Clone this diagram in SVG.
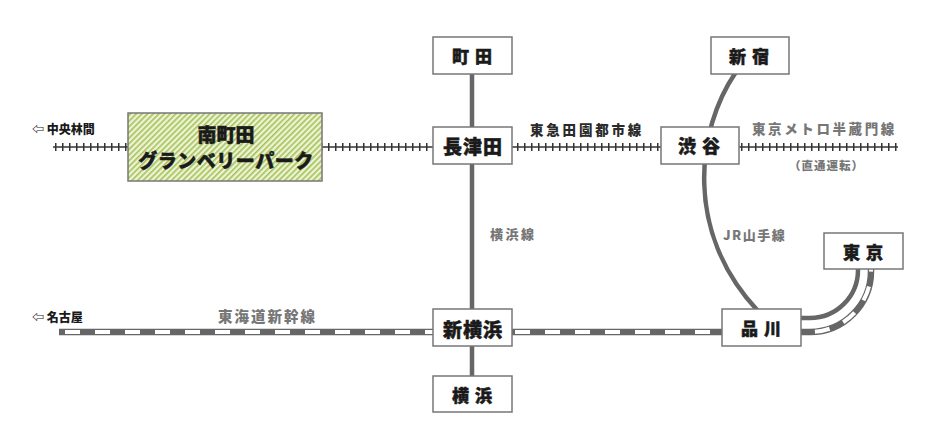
<svg xmlns="http://www.w3.org/2000/svg" width="933" height="426" viewBox="0 0 933 426">
<defs>
<pattern id="hatch" width="4" height="4" patternUnits="userSpaceOnUse" patternTransform="rotate(45)">
<rect width="4" height="4" fill="#eef3d6"/>
<rect width="1.6" height="4" fill="#a3c257"/>
</pattern>
</defs>
<style>
.box{fill:#fff;stroke:#777;stroke-width:1.5}
.st{font-family:"Noto Sans CJK JP","Noto Sans CJK SC",sans-serif;font-weight:900;fill:#1a1a1a;stroke:#1a1a1a;stroke-width:0.5;text-anchor:middle}
.lbl{font-family:"Noto Sans CJK JP","Noto Sans CJK SC",sans-serif;font-weight:900;fill:#777}
.dir{font-family:"Noto Sans CJK JP","Noto Sans CJK SC",sans-serif;font-weight:900;fill:#1a1a1a;font-size:12px}
.rail{fill:none;stroke:#333;stroke-width:1.4}
.tick{fill:none;stroke:#333;stroke-width:8;stroke-dasharray:1.5 5.5}
.jr{fill:none;stroke:#666;stroke-width:4.5}
.shin{fill:none;stroke:#666;stroke-width:6.5}
.shinw{fill:none;stroke:#fff;stroke-width:4;stroke-dasharray:15 15}
</style>
<rect width="933" height="426" fill="#fff"/>
<g id="connectors">
<!-- Tokyu Den-en-toshi line -->
<line class="rail" x1="53" y1="147" x2="898" y2="147"/>
<line class="tick" x1="55" y1="147" x2="898" y2="147"/>
<!-- Yokohama line -->
<line class="jr" x1="472" y1="74" x2="472" y2="376"/>
<!-- Yamanote line -->
<path class="jr" d="M736 72 C696 130 684 232 758 311"/>
<path class="jr" d="M800 318 L810 318 A48 48 0 0 0 858 270 L858 268"/>
<!-- Tokaido Shinkansen -->
<path class="shin" d="M59 332 L810 332 A61 61 0 0 0 871 271 L871 268"/>
<path class="shinw" d="M65 332 L810 332 A61 61 0 0 0 871 271 L871 268"/>
</g>
<g id="labels">
<text class="dir" x="32" y="134">⇦ 中央林間</text>
<text class="dir" x="32" y="322">⇦ 名古屋</text>
<text class="lbl" x="530" y="135" font-size="13.5" letter-spacing="2.8" style="fill:#2a2a2a">東急田園都市線</text>
<text class="lbl" x="752" y="134" font-size="13.5" letter-spacing="2.6">東京メトロ半蔵門線</text>
<text class="lbl" x="789" y="170" font-size="11.5" letter-spacing="1">（直通運転）</text>
<text class="lbl" x="723" y="240" font-size="13" letter-spacing="1.5">JR山手線</text>
<text class="lbl" x="490" y="239" font-size="13" letter-spacing="2.5">横浜線</text>
<text class="lbl" x="218" y="322" font-size="14.5" letter-spacing="2">東海道新幹線</text>
</g>
<g id="minamimachida">
<rect x="128" y="113" width="194" height="68" fill="url(#hatch)" stroke="#777" stroke-width="1.5"/>
<text class="st" x="226" y="142" font-size="19">南町田</text>
<text class="st" x="226" y="168" font-size="19" letter-spacing="0.5">グランベリーパーク</text>
</g>
<g id="machida">
<rect class="box" x="433" y="37" width="79" height="37"/>
<text class="st" x="475" y="63" font-size="17" letter-spacing="6">町田</text>
</g>
<g id="nagatsuta">
<rect class="box" x="433" y="127" width="79" height="37"/>
<text class="st" x="473" y="154" font-size="19" letter-spacing="1">長津田</text>
</g>
<g id="shibuya">
<rect class="box" x="661" y="127" width="78" height="37"/>
<text class="st" x="702" y="153" font-size="18" letter-spacing="6">渋谷</text>
</g>
<g id="shinjuku">
<rect class="box" x="711" y="37" width="78" height="37"/>
<text class="st" x="752" y="63" font-size="17" letter-spacing="6">新宿</text>
</g>
<g id="shinyokohama">
<rect class="box" x="433" y="309" width="79" height="37"/>
<text class="st" x="473" y="337" font-size="19" letter-spacing="1">新横浜</text>
</g>
<g id="yokohama">
<rect class="box" x="433" y="376" width="79" height="36"/>
<text class="st" x="475" y="402" font-size="17" letter-spacing="6">横浜</text>
</g>
<g id="shinagawa">
<rect class="box" x="722" y="309" width="79" height="37"/>
<text class="st" x="764" y="335" font-size="17" letter-spacing="6">品川</text>
</g>
<g id="tokyo">
<rect class="box" x="824" y="233" width="79" height="36"/>
<text class="st" x="866" y="259" font-size="17" letter-spacing="6">東京</text>
</g>
</svg>
